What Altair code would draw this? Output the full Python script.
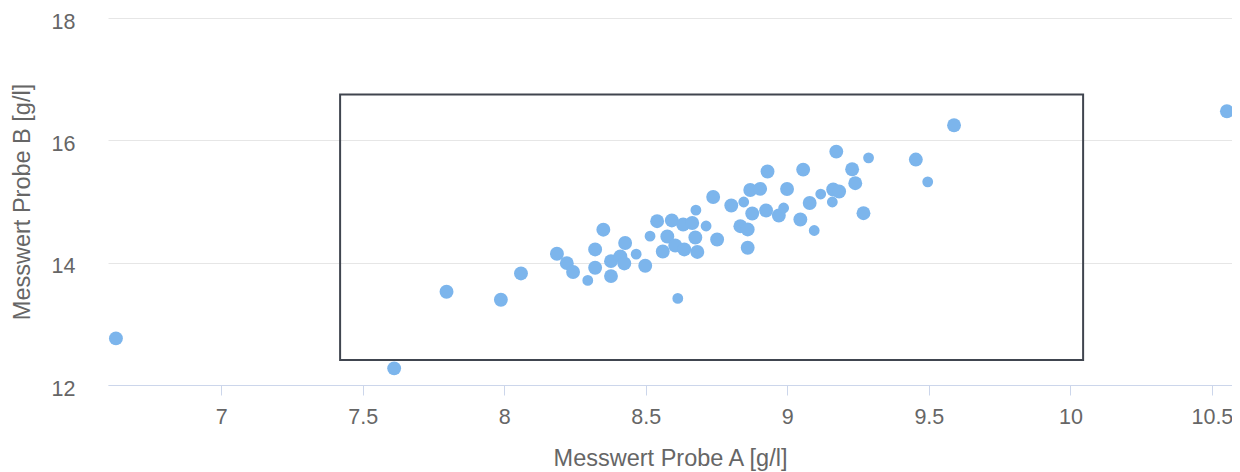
import altair as alt
import pandas as pd

probe_a = [6.628, 7.611, 7.796, 7.988, 8.059, 8.186, 8.221, 8.243, 8.295, 8.321,
           8.321, 8.350, 8.377, 8.377, 8.427, 8.410, 8.424, 8.466, 8.498, 8.515,
           8.540, 8.560, 8.592, 8.632, 8.664, 8.576, 8.675, 8.604, 8.636, 8.682,
           8.613, 8.677, 8.713, 8.738, 8.752, 8.802, 8.846, 8.869, 8.904, 8.834,
           8.860, 8.876, 8.860, 8.925, 8.930, 8.970, 8.987, 8.999, 9.046, 9.056,
           9.079, 9.095, 9.118, 9.159, 9.162, 9.183, 9.173, 9.229, 9.240, 9.269,
           9.287, 9.454, 9.496, 9.589, 10.553]
probe_b = [12.762, 12.272, 13.525, 13.394, 13.824, 14.146, 13.992, 13.848, 13.710, 13.917,
           14.216, 14.539, 14.025, 13.780, 14.322, 14.102, 13.987, 14.139, 13.950, 14.433,
           14.678, 14.183, 14.690, 14.624, 14.649, 14.428, 14.412, 14.281, 14.216, 14.175,
           13.416, 14.858, 14.600, 15.073, 14.379, 14.935, 14.992, 15.188, 15.207, 14.596,
           14.543, 14.804, 14.244, 14.853, 15.490, 14.771, 14.894, 15.204, 14.706, 15.522,
           14.975, 14.526, 15.122, 14.992, 15.196, 15.163, 15.816, 15.527, 15.299, 14.809,
           15.714, 15.686, 15.322, 16.246, 16.475]
klasse = ["g", "g", "g", "g", "g", "g", "g", "g", "k", "g",
          "g", "g", "g", "g", "g", "g", "g", "k", "g", "k",
          "g", "g", "g", "g", "g", "g", "g", "g", "g", "g",
          "k", "k", "k", "g", "g", "g", "k", "g", "g", "g",
          "g", "g", "g", "g", "g", "g", "k", "g", "g", "g",
          "g", "k", "k", "k", "g", "g", "g", "g", "g", "g",
          "k", "g", "k", "g", "g"]

# Rahmen (Bereich)
rahmen_a = [7.42, 10.045]
rahmen_b = [12.41, 16.75]

x_ticks = [7, 7.5, 8, 8.5, 9, 9.5, 10, 10.5]
y_ticks = [12, 14, 16, 18]
x_domain = [6.6, 10.571]
y_domain = [12, 18]

df = pd.DataFrame({"A": probe_a, "B": probe_b, "Klasse": klasse})
box = pd.DataFrame({"a1": [rahmen_a[0]], "a2": [rahmen_a[1]],
                    "b1": [rahmen_b[0]], "b2": [rahmen_b[1]]})

FONT = "Liberation Sans"
GREY = "#666666"

x_scale = alt.Scale(domain=x_domain, nice=False, zero=False)
y_scale = alt.Scale(domain=y_domain, nice=False, zero=False)

x_axis = alt.Axis(
    title="Messwert Probe A [g/l]", values=x_ticks, format="~g", grid=False,
    domainColor="#ccd6eb", domainWidth=1, tickColor="#ccd6eb", tickSize=10, tickWidth=1,
    labelFont=FONT, labelFontSize=21.5, labelColor=GREY, labelBaseline="alphabetic",
    labelPadding=28, labelFlush=False, labelOverlap=False,
    titleFont=FONT, titleFontSize=23.5, titleColor=GREY, titleFontWeight="normal",
    titleBaseline="alphabetic", titleY=80,
)
y_axis = alt.Axis(
    title="Messwert Probe B [g/l]", values=y_ticks, grid=True, gridColor="#e6e6e6", gridWidth=1,
    domain=False, ticks=False, tickSize=0,
    labelFont=FONT, labelFontSize=21.5, labelColor=GREY, labelBaseline="alphabetic",
    labelOffset=10, labelPadding=33, labelAlign="right", labelFlush=False, labelOverlap=False,
    titleFont=FONT, titleFontSize=23.5, titleColor=GREY, titleFontWeight="normal",
    titleAngle=270, titleBaseline="alphabetic", titleAlign="center", titleX=-78.5, titleY=183.5,
)

points = alt.Chart(df).mark_circle(opacity=1, color="#7cb5ec").encode(
    x=alt.X("A:Q", scale=x_scale, axis=x_axis),
    y=alt.Y("B:Q", scale=y_scale, axis=y_axis),
    size=alt.Size("Klasse:N", scale=alt.Scale(domain=["g", "k"], range=[193, 117]), legend=None),
)

rect = alt.Chart(box).mark_rect(fillOpacity=0, stroke="#40454f", strokeWidth=2).encode(
    x=alt.X("a1:Q", scale=x_scale, axis=x_axis),
    x2="a2",
    y=alt.Y("b1:Q", scale=y_scale, axis=y_axis),
    y2="b2",
)

chart = alt.layer(points, rect).properties(
    width=1124, height=367,
    autosize=alt.AutoSizeParams(type="none"),
    padding={"left": 100, "top": 10, "right": 0, "bottom": 86},
).configure_view(stroke=None)

chart.save("out.html", embed_options={"renderer": "svg", "actions": False})
